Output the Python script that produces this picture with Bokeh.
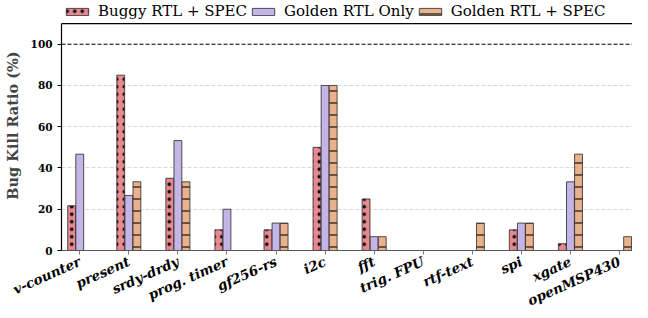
import math
from bokeh.plotting import figure
from bokeh.models import (FixedTicker, Range1d, Span, Legend,
                          LegendItem, ColumnDataSource)
from bokeh.embed import file_html
from bokeh.resources import INLINE

categories = ["v-counter", "present", "srdy-drdy", "prog. timer", "gf256-rs",
              "i2c", "fft", "trig. FPU", "rtf-text", "spi", "xgate", "openMSP430"]
buggy_rtl_spec = [21.7, 85.0, 35.0, 10.0, 10.0, 50.0, 25.0, 0.0, 0.0, 10.0, 3.3, 0.0]
golden_rtl_only = [46.7, 26.7, 53.3, 20.0, 13.3, 80.0, 6.7, 0.0, 0.0, 13.3, 33.3, 0.0]
golden_rtl_spec = [0.0, 33.3, 33.3, 0.0, 13.3, 80.0, 6.7, 0.0, 13.3, 13.3, 46.7, 6.7]
series_names = ["Buggy RTL + SPEC", "Golden RTL Only", "Golden RTL + SPEC"]
y_ticks = [0, 20, 40, 60, 80, 100]
reference_level = 100
y_max = 110

FONT = "DejaVu Serif"
colors = ["#E8898F", "#C5B4E6", "#EAB28C"]
hatches = ["dot", None, "horizontal_line"]
hatch_scales = [7.5, 12, 12]
hatch_weights = [1.7, 1, 1.2]
offsets = [-0.165, 0.0, 0.165]
bar_w = 0.16

idx = list(range(len(categories)))

p = figure(width=632, frame_height=250, x_range=Range1d(-0.372, 11.265),
           y_range=Range1d(0, 121.2), output_backend="svg",
           toolbar_location=None, min_border_left=59, min_border_right=0,
           min_border_top=0)
p.outline_line_color = None

renderers = []
for k, vals in enumerate([buggy_rtl_spec, golden_rtl_only, golden_rtl_spec]):
    src = ColumnDataSource(dict(x=[i + offsets[k] for i in idx], top=vals))
    kw = {}
    if hatches[k]:
        kw = dict(hatch_pattern=hatches[k], hatch_scale=hatch_scales[k],
                  hatch_weight=hatch_weights[k], hatch_color="#111111")
    r = p.vbar(x="x", top="top", bottom=0, width=bar_w, source=src,
               fill_color=colors[k], line_color="#333333", line_width=1,
               line_alpha=0.85, **kw)
    renderers.append(r)

p.add_layout(Span(location=reference_level, dimension="width", line_color="black",
                  line_dash="4 2", line_width=1))
# top spine
p.add_layout(Span(location=y_max, dimension="width", line_color="black",
                  line_width=1.2))

# grid
p.xgrid.grid_line_color = None
p.ygrid.ticker = FixedTicker(ticks=y_ticks[1:-1])
p.ygrid.grid_line_color = "#d8d8d8"
p.ygrid.grid_line_dash = "4 2"
p.ygrid.grid_line_width = 1

# y axis
ya = p.yaxis[0]
ya.ticker = FixedTicker(ticks=y_ticks)
ya.bounds = (0, y_max)
ya.axis_label = "Bug Kill Ratio (%)"
ya.axis_label_text_font = FONT
ya.axis_label_text_font_style = "bold"
ya.axis_label_text_font_size = "14.5px"
ya.axis_label_standoff = 7
ya.major_label_text_font = FONT
ya.major_label_text_font_style = "bold"
ya.major_label_text_font_size = "10.5px"
ya.major_label_text_color = "black"
ya.major_tick_out = 4
ya.major_tick_in = 0
ya.minor_tick_line_color = None
ya.axis_line_color = "black"
ya.axis_line_width = 1.2
ya.major_tick_line_color = "black"

# x axis
xa = p.xaxis[0]
xa.ticker = FixedTicker(ticks=idx)
xa.major_label_overrides = {i: c for i, c in zip(idx, categories)}
xa.major_label_orientation = math.radians(24)
xa.major_label_text_font = FONT
xa.major_label_text_font_style = "bold italic"
xa.major_label_text_font_size = "13.5px"
xa.major_label_text_color = "black"
xa.major_label_standoff = 6
xa.major_tick_out = 4
xa.major_tick_in = 0
xa.minor_tick_line_color = None
xa.axis_line_color = "#555555"
xa.axis_line_width = 1.2
xa.major_tick_line_color = "#777777"

legend = Legend(items=[LegendItem(label=n, renderers=[r]) for n, r in zip(series_names, renderers)],
                orientation="horizontal", location="top_left")
legend.label_text_font = FONT
legend.label_text_font_size = "15px"
legend.label_text_color = "black"
legend.label_standoff = 7
legend.spacing = 2
legend.glyph_width = 28
legend.glyph_height = 9
legend.label_height = 15
legend.padding = 2
legend.margin = 2
legend.border_line_color = None
legend.background_fill_alpha = 0
p.add_layout(legend, "center")

open("out.html", "w").write(file_html(p, INLINE))
